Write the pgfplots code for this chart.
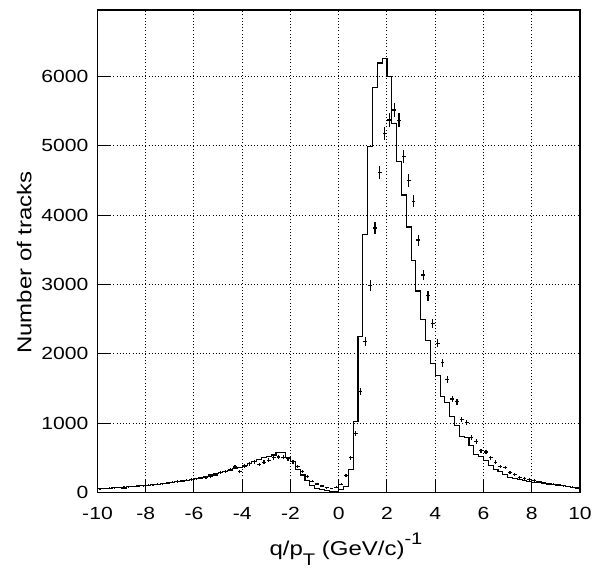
\documentclass[border=0pt]{standalone}
\usepackage{fontspec}
\setmainfont{Liberation Sans}[FakeStretch=1.2]
\usepackage{pgfplots}
\pgfplotsset{compat=1.18}
\usepackage{pgfplotstable}

% histogram: left bin edge, content (last row closes the final bin)
\pgfplotstableread{
x y
-10.0 55
-9.8 55
-9.6 58
-9.4 70
-9.2 72
-9.0 55
-8.8 85
-8.6 88
-8.4 92
-8.2 96
-8.0 100
-7.8 108
-7.6 115
-7.4 122
-7.2 130
-7.0 140
-6.8 152
-6.6 160
-6.4 172
-6.2 188
-6.0 205
-5.8 215
-5.6 232
-5.4 250
-5.2 265
-5.0 285
-4.8 300
-4.6 320
-4.4 338
-4.2 362
-4.0 390
-3.8 415
-3.6 440
-3.4 478
-3.2 500
-3.0 520
-2.8 538
-2.6 578
-2.4 578
-2.2 501
-2.0 440
-1.8 335
-1.6 250
-1.4 165
-1.2 100
-1.0 60
-0.8 35
-0.6 20
-0.4 12
-0.2 15
0.0 40
0.2 85
0.4 328
0.6 1016
0.8 2254
1.0 3714
1.2 4990
1.4 5843
1.6 6195
1.8 6257
2.0 5995
2.2 5318
2.4 4773
2.6 4290
2.8 3828
3.0 3350
3.2 2905
3.4 2490
3.6 2190
3.8 1859
4.0 1691
4.2 1380
4.4 1291
4.6 1098
4.8 958
5.0 809
5.2 785
5.4 679
5.6 540
5.8 515
6.0 453
6.2 390
6.4 325
6.6 300
6.8 255
7.0 220
7.2 205
7.4 180
7.6 170
7.8 160
8.0 145
8.2 150
8.4 130
8.6 120
8.8 115
9.0 105
9.2 95
9.4 85
9.6 70
9.8 60
10.0 60
}\histo

% data points: bin centre, counts, error
\pgfplotstableread{
x y e
-9.9 50 11
-9.7 55 11
-9.5 60 11
-9.3 65 11
-9.1 70 11
-8.9 75 11
-8.7 80 11
-8.5 85 13
-8.3 90 13
-8.1 95 13
-7.9 100 13
-7.7 110 14
-7.5 115 14
-7.3 125 14
-7.1 135 15
-6.9 145 15
-6.7 155 17
-6.5 165 17
-6.3 175 17
-6.1 185 18
-5.9 195 18
-5.7 205 18
-5.5 215 20
-5.3 225 20
-5.1 250 21
-4.9 280 22
-4.7 305 22
-4.5 330 24
-4.3 365 25
-4.1 305 22
-3.9 380 25
-3.7 410 27
-3.5 440 28
-3.3 400 27
-3.1 435 28
-2.9 460 28
-2.7 500 29
-2.5 510 29
-2.3 505 29
-2.1 485 29
-1.9 440 28
-1.7 375 25
-1.5 305 22
-1.3 230 20
-1.1 160 17
-0.9 120 14
-0.7 90 13
-0.5 65 11
-0.3 55 10
-0.1 75 11
0.1 115 14
0.3 240 20
0.5 500 29
0.7 850 38
0.9 1460 50
1.1 2172 62
1.3 2985 73
1.5 3815 81
1.7 4614 90
1.9 5183 95
2.1 5373 97
2.3 5518 98
2.5 5371 97
2.7 4846 92
2.9 4500 88
3.1 4200 85
3.3 3640 80
3.5 3136 74
3.7 2835 70
3.9 2438 66
4.1 2153 62
4.3 1869 57
4.5 1625 53
4.7 1347 49
4.9 1305 48
5.1 1050 42
5.3 1007 42
5.5 795 38
5.7 730 36
5.9 600 32
6.1 583 32
6.3 501 29
6.5 432 28
6.7 376 25
6.9 360 25
7.1 285 22
7.3 258 21
7.5 215 20
7.7 198 18
7.9 183 18
8.1 172 17
8.3 150 17
8.5 140 15
8.7 125 14
8.9 115 14
9.1 105 14
9.3 95 13
9.5 85 13
9.7 75 11
9.9 65 11
}\points

\begin{document}
\begin{tikzpicture}
\begin{axis}[
  scale only axis,
  width=241.25pt, height=241.15pt,
  xmin=-10, xmax=10, ymin=0, ymax=6960,
  xtick={-10,-8,...,10},
  xticklabels={-10,-8,-6,-4,-2,0,2,4,6,8,10},
  ytick={0,1000,...,6000},
  yticklabels={0,1000,2000,3000,4000,5000,6000},
  tick pos=left, tick align=inside,
  major tick length=6pt,
  tick style={black, line width=0.5pt},
  axis line style={line width=0.6pt},
  grid=major,
  grid style={black, line width=0.5pt, dash pattern=on 0.5pt off 1.1pt},
  ticklabel style={font=\fontsize{8.8}{10}\selectfont},
  xticklabel style={yshift=-4pt},
  yticklabel style={xshift=-1pt},
  xlabel={q/p\raisebox{-0.5em}{\fontsize{8.4}{9}\selectfont T} (GeV/c)\raisebox{0.55em}{\fontsize{8.4}{9}\selectfont -1}},
  ylabel={Number of tracks},
  label style={font=\fontsize{10}{12}\selectfont},
  xlabel style={at={(axis description cs:0.515,-0.13)}, anchor=base},
  ylabel style={at={(axis description cs:-0.152,0.4765)}, anchor=center},
]
\addplot[const plot mark left, black, line width=0.55pt] table[x=x, y=y] {\histo};
\addplot[draw=none, no markers,
  error bars/.cd, x dir=both, x fixed=0.08, y dir=both, y explicit,
  error mark=none, error bar style={draw=black, line width=0.6pt}]
  table[x=x, y=y, y error=e] {\points};
\end{axis}
\pgfresetboundingbox
\path (-48.75pt,-37.85pt) rectangle (251.25pt,246.15pt);
\end{tikzpicture}
\end{document}
